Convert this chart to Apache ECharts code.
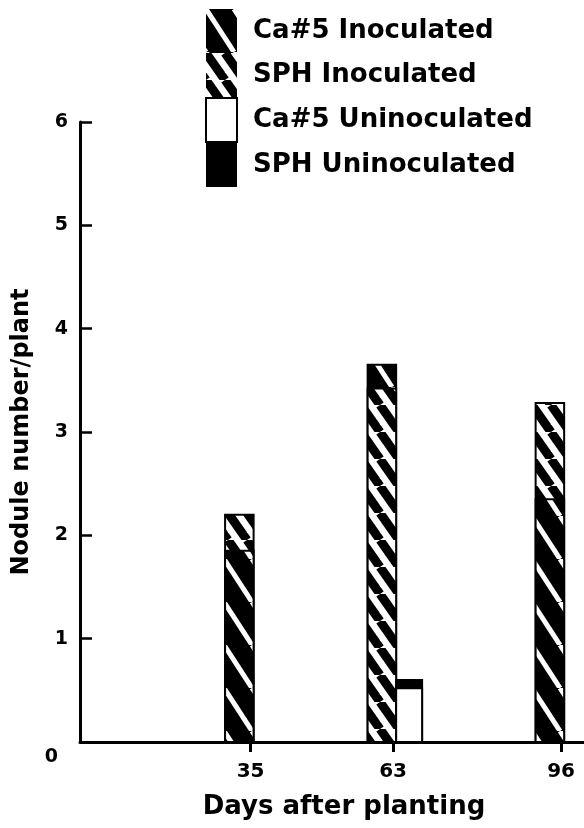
<!DOCTYPE html>
<html>
<head>
<meta charset="utf-8">
<script src="https://cdn.jsdelivr.net/npm/echarts@6/dist/echarts.min.js"></script>
<style>
  html, body { margin: 0; padding: 0; background: #fff; }
  #container { width: 584px; height: 828px; }
</style>
</head>
<body>
<div id="container"></div>
<script>
// data
var days = [35, 63, 96];
var ca5Inoc = [1.85, 3.65, 2.35];
var sphInoc = [2.2, 3.42, 3.28];
var ca5Uninoc = [0, 0.52, 0];
var sphUninoc = [0, 0.6, 0];
var yTicks = [0, 1, 2, 3, 4, 5, 6];

// hatch tile: diagonal "\" stripes
function stripes(bg, fg, w, h, lw) {
    var c = document.createElement('canvas');
    c.width = w; c.height = h;
    var g = c.getContext('2d');
    g.fillStyle = bg;
    g.fillRect(0, 0, w, h);
    g.strokeStyle = fg;
    g.lineWidth = lw;
    for (var dx = -w; dx <= w; dx += w) {
        g.beginPath();
        g.moveTo(dx, 0);
        g.lineTo(dx + w, h);
        g.stroke();
    }
    return { image: c, repeat: 'repeat' };
}

var fillCa5 = stripes('#000', '#fff', 28, 43, 5);
var fillSph = stripes('#fff', '#000', 19, 27, 9);

function pairs(vals) {
    var out = [];
    for (var i = 0; i < days.length; i++) out.push([days[i], vals[i]]);
    return out;
}

// a bar drawn from day+from to day+to (in days), on the value x axis
function makeRender(fill, from, to) {
    return function (params, api) {
        var d = api.value(0), v = api.value(1);
        if (!v) return null;
        var p0 = api.coord([d + from, v]);
        var p1 = api.coord([d + to, 0]);
        return {
            type: 'rect',
            z2: Math.round(100 - v * 10),
            shape: { x: p0[0], y: p0[1], width: p1[0] - p0[0], height: p1[1] - p0[1] },
            style: { fill: fill, stroke: '#000', lineWidth: 2 }
        };
    };
}

var font = 'DejaVu Sans';
var myChart = echarts.init(document.getElementById('container'));
var option = {
    animation: false,
    backgroundColor: '#fff',
    textStyle: { fontFamily: font },
    grid: { left: 80, right: 0, top: 122, bottom: 86 },
    legend: {
        orient: 'vertical',
        left: 200,
        top: 4,
        itemWidth: 31,
        itemHeight: 44,
        itemGap: 0,
        icon: 'rect',
        selectedMode: false,
        textStyle: { fontFamily: font, fontWeight: 'bold', fontSize: 26, color: '#000', padding: [0, 0, 0, 11] },
        data: [
            { name: 'Ca#5 Inoculated', itemStyle: { color: fillCa5, borderWidth: 0 } },
            { name: 'SPH Inoculated', itemStyle: { color: fillSph, borderWidth: 0 } },
            { name: 'Ca#5 Uninoculated', itemStyle: { color: '#fff', borderColor: '#000', borderWidth: 2 } },
            { name: 'SPH Uninoculated', itemStyle: { color: '#000', borderWidth: 0 } }
        ]
    },
    xAxis: {
        type: 'value',
        min: 1.5,
        max: 100.5,
        splitLine: { show: false },
        name: 'Days after planting',
        nameLocation: 'middle',
        nameGap: 52,
        nameTextStyle: { fontFamily: font, fontWeight: 'bold', fontSize: 26, color: '#000', padding: [0, 0, 0, 24] },
        axisLine: { lineStyle: { color: '#000', width: 3 } },
        axisTick: { customValues: days, length: 10, lineStyle: { color: '#000', width: 3 } },
        axisLabel: { customValues: days, margin: 20, fontFamily: font, fontWeight: 'bold', fontSize: 20, color: '#000' }
    },
    yAxis: {
        type: 'value',
        min: 0,
        max: 6,
        interval: 1,
        splitLine: { show: false },
        name: 'Nodule number/plant',
        nameLocation: 'middle',
        nameGap: 40,
        nameTextStyle: { fontFamily: font, fontWeight: 'bold', fontSize: 24, color: '#000' },
        axisLine: { show: true, lineStyle: { color: '#000', width: 3 } },
        axisTick: { show: true, inside: true, length: 12, customValues: yTicks.slice(1), lineStyle: { color: '#000', width: 2.5 } },
        axisLabel: {
            customValues: yTicks,
            margin: 12,
            fontFamily: font, fontWeight: 'bold', fontSize: 19, color: '#000',
            formatter: function (v) { return v === 0 ? '{z|0}' : String(v); },
            rich: { z: { fontFamily: font, fontWeight: 'bold', fontSize: 19, color: '#000', padding: [30, 10, 0, 0] } }
        }
    },
    series: [
        { name: 'Ca#5 Inoculated', type: 'custom', itemStyle: { color: fillCa5 }, renderItem: makeRender(fillCa5, -5, 0.6), data: pairs(ca5Inoc) },
        { name: 'SPH Inoculated', type: 'custom', itemStyle: { color: fillSph }, renderItem: makeRender(fillSph, -5, 0.6), data: pairs(sphInoc) },
        { name: 'Ca#5 Uninoculated', type: 'custom', itemStyle: { color: '#fff' }, renderItem: makeRender('#fff', 0.6, 5.7), data: pairs(ca5Uninoc) },
        { name: 'SPH Uninoculated', type: 'custom', itemStyle: { color: '#000' }, renderItem: makeRender('#000', 0.6, 5.7), data: pairs(sphUninoc) }
    ]
};

if (option && typeof option === 'object') {
    myChart.setOption(option);
}
</script>
</body>
</html>
